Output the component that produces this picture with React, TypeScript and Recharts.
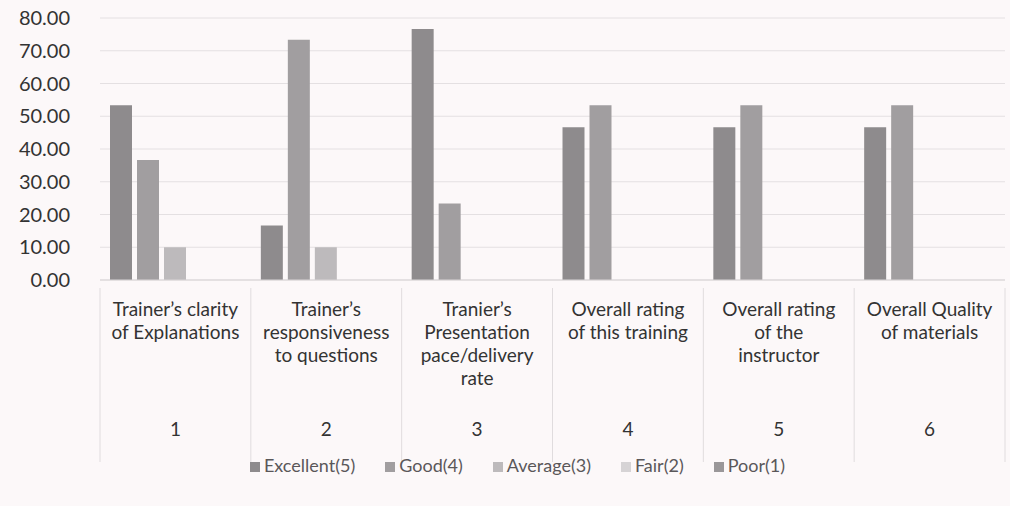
import React from 'react';
import { BarChart, Bar, XAxis, YAxis, CartesianGrid, Legend } from 'recharts';

// ─── Data ─────────────────────────────────────────────────────────────────────

const categories = ['1', '2', '3', '4', '5', '6'];

const categoryLabels: string[][] = [
  ['Trainer’s clarity', 'of Explanations'],
  ['Trainer’s', 'responsiveness', 'to questions'],
  ['Tranier’s', 'Presentation', 'pace/delivery', 'rate'],
  ['Overall rating', 'of this training'],
  ['Overall rating', 'of the', 'instructor'],
  ['Overall Quality', 'of materials'],
];

const excellent = [53.33, 16.67, 76.67, 46.67, 46.67, 46.67];
const good = [36.67, 73.33, 23.33, 53.33, 53.33, 53.33];
const average = [10.0, 10.0, 0, 0, 0, 0];
const fair = [0, 0, 0, 0, 0, 0];
const poor = [0, 0, 0, 0, 0, 0];

const yTicks = [0, 10, 20, 30, 40, 50, 60, 70, 80];

const series = [
  { key: 'excellent', name: 'Excellent(5)', color: '#8e8b8d' },
  { key: 'good', name: 'Good(4)', color: '#a19ea0' },
  { key: 'average', name: 'Average(3)', color: '#bdbabc' },
  { key: 'fair', name: 'Fair(2)', color: '#d6d3d5' },
  { key: 'poor', name: 'Poor(1)', color: '#9a9799' },
];

const chartData = categories.map((c, i) => ({
  cat: c,
  excellent: excellent[i],
  good: good[i],
  average: average[i],
  fair: fair[i],
  poor: poor[i],
}));

// ─── Layout ───────────────────────────────────────────────────────────────────

const WIDTH = 1010;
const HEIGHT = 500;
const Y_AXIS_W = 100;
const X_AXIS_H = 174;
const MARGIN = { top: 18, right: 5, left: 0, bottom: 24 };
const BAND = (WIDTH - Y_AXIS_W - MARGIN.left - MARGIN.right) / categories.length;
const FONT = 'Lato, "Open Sans", sans-serif';

// ─── Two-level category tick ──────────────────────────────────────────────────

const CategoryTick = (props: any) => {
  const { x, y, payload, index } = props;
  const idx = categories.indexOf(String(payload.value));
  const lines = categoryLabels[idx] || [];
  return (
    <g>
      <line x1={x - BAND / 2} y1={y} x2={x - BAND / 2} y2={y + X_AXIS_H} stroke="#e0dcde" />
      {index === categories.length - 1 && (
        <line x1={x + BAND / 2} y1={y} x2={x + BAND / 2} y2={y + X_AXIS_H} stroke="#e0dcde" />
      )}
      {lines.map((l, i) => (
        <text
          key={i}
          x={x}
          y={y + 28 + i * 23}
          textAnchor="middle"
          fill="#333"
          fontSize={19}
          fontFamily={FONT}
        >
          {l}
        </text>
      ))}
      <text x={x} y={y + 148} textAnchor="middle" fill="#333" fontSize={19} fontFamily={FONT}>
        {payload.value}
      </text>
    </g>
  );
};

const legendOrder = (item: any) => series.findIndex((s) => s.name === item.value);

// ─── App ──────────────────────────────────────────────────────────────────────

export default function App() {
  return (
    <div
      style={{
        position: 'absolute',
        left: 0,
        top: 0,
        width: 1010,
        height: 506,
        background: '#fcf8f9',
      }}
    >
      <BarChart
        width={WIDTH}
        height={HEIGHT}
        data={chartData}
        margin={MARGIN}
        barCategoryGap={10}
        barGap={5}
      >
        <CartesianGrid vertical={false} stroke="#e4e0e2" />
        <XAxis
          dataKey="cat"
          height={X_AXIS_H}
          interval={0}
          tickLine={false}
          axisLine={{ stroke: '#d8d4d6' }}
          tick={<CategoryTick />}
        />
        <YAxis
          width={Y_AXIS_W}
          domain={[0, 80]}
          ticks={yTicks}
          interval={0}
          tickFormatter={(v: number) => v.toFixed(2)}
          tick={{ fill: '#333', fontSize: 20, fontFamily: FONT }}
          tickMargin={24}
          axisLine={false}
          tickLine={false}
        />
        <Legend
          iconType="square"
          iconSize={10}
          itemSorter={legendOrder}
          wrapperStyle={{ fontFamily: FONT, fontSize: 18, paddingLeft: 30 }}
          formatter={(value: string) => (
            <span style={{ color: '#5a5759', marginRight: 20 }}>{value}</span>
          )}
        />
        {series.map((s) => (
          <Bar
            key={s.key}
            dataKey={s.key}
            name={s.name}
            fill={s.color}
            isAnimationActive={false}
          />
        ))}
      </BarChart>
    </div>
  );
}
